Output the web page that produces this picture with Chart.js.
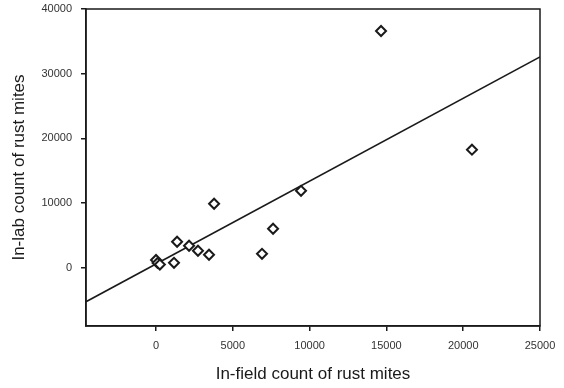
<!DOCTYPE html>
<html>
<head>
<meta charset="utf-8">
<script src="https://cdn.jsdelivr.net/npm/chart.js@4/dist/chart.umd.min.js"></script>
<style>
  html, body { margin: 0; padding: 0; background: #fff; }
</style>
</head>
<body>
<canvas id="myChart" width="564" height="388"></canvas>
<script>
// 관측값 (in-field, in-lab)
const fieldCounts = [14650, 20570, 9440, 3780, 7620, 6900, 1370, 2150, 2730, 3450, 1170, 0, 100, 250];
const labCounts = [36600, 18250, 11900, 9900, 6030, 2160, 4020, 3400, 2630, 2010, 770, 1200, 750, 500];

// 회귀선 양 끝점
const fitX = [-4560, 25000];
const fitY = [-5250, 32600];

const xTicks = [0, 5000, 10000, 15000, 20000, 25000];
const yTicks = [0, 10000, 20000, 30000, 40000];

const ink = '#1a1a1a';

const frameBox = {
  id: 'frameBox',
  afterDraw(chart) {
    const { ctx, chartArea } = chart;
    ctx.save();
    ctx.strokeStyle = ink;
    ctx.lineWidth = 1.5;
    ctx.strokeRect(chartArea.left, chartArea.top, chartArea.right - chartArea.left, chartArea.bottom - chartArea.top);
    ctx.restore();
  },
};

const data = {
  datasets: [
    {
      type: 'scatter',
      data: fieldCounts.map((x, i) => ({ x: x, y: labCounts[i] })),
      pointStyle: 'rectRot',
      pointRadius: 5,
      pointBorderWidth: 2,
      pointBorderColor: ink,
      pointBackgroundColor: '#fff',
      order: 1,
    },
    {
      type: 'line',
      data: fitX.map((x, i) => ({ x: x, y: fitY[i] })),
      borderColor: ink,
      borderWidth: 1.6,
      pointRadius: 0,
      fill: false,
      order: 2,
    },
  ],
};

const config = {
  type: 'scatter',
  data: data,
  plugins: [frameBox],
  options: {
    responsive: false,
    animation: false,
    layout: { padding: { top: 9, right: 24, left: 0, bottom: 0 } },
    plugins: { legend: { display: false }, tooltip: { enabled: false } },
    scales: {
      x: {
        type: 'linear',
        min: -4560,
        max: 25000,
        afterBuildTicks: (scale) => {
          scale.ticks = xTicks.map((v) => ({ value: v }));
        },
        afterFit: (scale) => {
          scale.height = 62;
          scale.paddingLeft = 0;
          scale.paddingRight = 0;
        },
        grid: { drawOnChartArea: false, drawTicks: true, tickLength: 5, color: ink, lineWidth: 1.5 },
        border: { display: true, color: ink, width: 1.5 },
        ticks: {
          color: '#333',
          font: { family: 'Liberation Sans, Arial', size: 11 },
          padding: 8,
          maxRotation: 0,
          autoSkip: false,
          callback: (v) => String(v),
        },
        title: {
          display: true,
          text: 'In-field count of rust mites',
          color: ink,
          font: { family: 'Liberation Sans, Arial', size: 17 },
          padding: { top: 0, bottom: 3 },
        },
      },
      y: {
        type: 'linear',
        min: -9000,
        max: 40000,
        afterBuildTicks: (scale) => {
          scale.ticks = yTicks.map((v) => ({ value: v }));
        },
        afterFit: (scale) => {
          scale.width = 86;
          scale.paddingTop = 0;
          scale.paddingBottom = 0;
        },
        grid: { drawOnChartArea: false, drawTicks: true, tickLength: 5, color: ink, lineWidth: 1.5 },
        border: { display: true, color: ink, width: 1.5 },
        ticks: {
          color: '#333',
          font: { family: 'Liberation Sans, Arial', size: 11 },
          padding: 9,
          autoSkip: false,
          callback: (v) => String(v),
        },
        title: {
          display: true,
          text: 'In-lab count of rust mites',
          color: ink,
          font: { family: 'Liberation Sans, Arial', size: 17 },
          padding: { top: 9, bottom: 0 },
        },
      },
    },
  },
};

const myChart = new Chart(document.getElementById('myChart'), config);
</script>
</body>
</html>
